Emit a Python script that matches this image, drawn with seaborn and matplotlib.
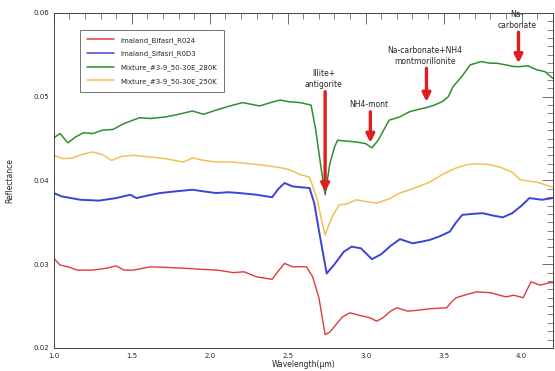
# Reflectance spectra with absorption feature annotations

import pandas as pd
import matplotlib
matplotlib.use("Agg")
import matplotlib.pyplot as plt
import seaborn as sns
from matplotlib.ticker import MultipleLocator

# data
red_x = [1.00,1.04,1.09,1.15,1.25,1.33,1.40,1.45,1.51,1.62,1.75,1.85,1.94,2.05,2.15,2.22,2.30,2.40,2.44,2.48,
         2.53,2.62,2.66,2.70,2.74,2.77,2.81,2.85,2.90,2.96,3.03,3.07,3.11,3.16,3.20,3.27,3.33,3.42,3.52,3.55,
         3.58,3.65,3.71,3.80,3.90,3.95,4.01,4.06,4.12,4.18,4.20]
red_y = [0.0307,0.0299,0.0297,0.0293,0.0293,0.0295,0.0298,0.0293,0.0293,0.0297,0.0296,0.0295,0.0294,0.0293,0.0290,
         0.0291,0.0285,0.0282,0.0292,0.0301,0.0297,0.0297,0.0285,0.0260,0.0216,0.0219,0.0228,0.0237,0.0242,0.0239,
         0.0236,0.0232,0.0236,0.0244,0.0248,0.0244,0.0245,0.0247,0.0248,0.0255,0.0260,0.0264,0.0267,0.0266,0.0261,
         0.0263,0.0260,0.0279,0.0275,0.0278,0.0278]

blue_x = [1.00,1.05,1.17,1.29,1.40,1.49,1.53,1.60,1.68,1.78,1.89,1.96,2.04,2.12,2.19,2.30,2.40,2.44,2.48,2.53,
          2.58,2.64,2.67,2.71,2.75,2.80,2.86,2.91,2.97,3.04,3.10,3.16,3.22,3.30,3.36,3.41,3.47,3.54,3.58,3.62,
          3.68,3.75,3.82,3.88,3.94,4.00,4.05,4.13,4.20]
blue_y = [0.0385,0.0381,0.0377,0.0376,0.0379,0.0383,0.0379,0.0382,0.0385,0.0387,0.0389,0.0387,0.0385,0.0386,0.0385,
          0.0383,0.0380,0.0390,0.0397,0.0393,0.0392,0.0391,0.0373,0.0330,0.0289,0.0300,0.0315,0.0321,0.0319,0.0306,
          0.0312,0.0322,0.0330,0.0325,0.0327,0.0329,0.0333,0.0339,0.0350,0.0359,0.0360,0.0361,0.0358,0.0356,0.0361,
          0.0370,0.0379,0.0377,0.0379]

green_x = [1.00,1.04,1.09,1.14,1.19,1.25,1.31,1.38,1.45,1.55,1.62,1.72,1.80,1.89,1.96,2.04,2.11,2.21,2.32,2.39,
           2.45,2.51,2.58,2.65,2.68,2.71,2.74,2.77,2.80,2.82,2.88,2.94,3.00,3.04,3.08,3.15,3.22,3.28,3.34,3.39,
           3.44,3.49,3.53,3.56,3.62,3.67,3.74,3.80,3.84,3.90,3.95,3.99,4.04,4.10,4.15,4.20]
green_y = [0.0451,0.0456,0.0445,0.0452,0.0457,0.0456,0.0460,0.0461,0.0468,0.0475,0.0474,0.0476,0.0479,0.0483,0.0479,
           0.0484,0.0488,0.0493,0.0489,0.0493,0.0496,0.0494,0.0493,0.0490,0.0460,0.0420,0.0383,0.0420,0.0440,0.0448,
           0.0447,0.0446,0.0444,0.0439,0.0448,0.0472,0.0476,0.0482,0.0485,0.0487,0.0490,0.0494,0.0500,0.0512,0.0525,
           0.0538,0.0542,0.0540,0.0540,0.0538,0.0536,0.0536,0.0537,0.0532,0.0530,0.0522]

orange_x = [1.00,1.06,1.12,1.18,1.25,1.31,1.37,1.44,1.51,1.62,1.72,1.83,1.89,1.96,2.04,2.15,2.26,2.35,2.43,2.51,
            2.58,2.64,2.69,2.72,2.74,2.78,2.83,2.88,2.94,3.00,3.07,3.15,3.22,3.30,3.41,3.50,3.58,3.65,3.71,3.79,
            3.86,3.94,3.99,4.05,4.10,4.15,4.20]
orange_y = [0.0430,0.0426,0.0427,0.0431,0.0434,0.0431,0.0424,0.0429,0.0430,0.0428,0.0426,0.0422,0.0427,0.0424,0.0422,
            0.0422,0.0420,0.0418,0.0416,0.0413,0.0407,0.0404,0.0377,0.0350,0.0335,0.0355,0.0371,0.0372,0.0377,0.0375,
            0.0373,0.0378,0.0385,0.0390,0.0398,0.0408,0.0415,0.0419,0.0420,0.0419,0.0416,0.0410,0.0401,0.0399,0.0398,
            0.0395,0.0392]

names = ["Imaland_Bifasrl_R024", "Imaland_Sifasrl_R0D3",
         "Mixture_#3-9_50-30E_280K", "Mixture_#3-9_50-30E_250K"]
colors = ["#e03a3a", "#3a44d8", "#2f8f2f", "#f5bf55"]

# annotations: label, x, arrow tail y, arrow head y
feat_labels = ["Illite+\nantigorite", "NH4-mont", "Na-carbonate+NH4\nmontmorillonite", "Na-\ncarbonate"]
feat_x = [2.74, 3.03, 3.39, 3.98]
feat_tail = [0.0506, 0.0482, 0.0534, 0.0577]
feat_head = [0.0386, 0.0445, 0.0494, 0.0540]

frames = []
for nm, xs, ys in zip(names, [red_x, blue_x, green_x, orange_x], [red_y, blue_y, green_y, orange_y]):
    frames.append(pd.DataFrame({"wavelength": xs, "reflectance": ys, "sample": nm}))
df = pd.concat(frames, ignore_index=True)

sns.set_style("white")
plt.rcParams['font.family'] = ['DejaVu Sans']

fig = plt.figure(figsize=(5.55, 3.71), dpi=100)
ax = fig.add_axes([0.097, 0.062, 0.899, 0.903])

sns.lineplot(data=df, x="wavelength", y="reflectance", hue="sample", hue_order=names,
             palette=colors, linewidth=1.1, sort=False, ax=ax)
for line, lw in zip(ax.get_lines(), [1.0, 1.4, 1.1, 1.1]):
    line.set_linewidth(lw)

for lab, fx, t, h in zip(feat_labels, feat_x, feat_tail, feat_head):
    ax.annotate("", xy=(fx, h), xytext=(fx, t),
                arrowprops=dict(arrowstyle="-|>,head_width=0.35,head_length=0.7",
                                color="#dd1f1f", lw=2.4, mutation_scale=7, shrinkA=0, shrinkB=0))
    ax.text(fx - 0.01, t + 0.0003, lab, ha="center", va="bottom", fontsize=5.5, linespacing=1.3)

ax.set_xlim(1.0, 4.2)
ax.set_ylim(0.02, 0.06)
ax.xaxis.set_major_locator(MultipleLocator(0.5))
ax.xaxis.set_minor_locator(MultipleLocator(0.1))
ax.yaxis.set_major_locator(MultipleLocator(0.01))
ax.yaxis.set_minor_locator(MultipleLocator(0.001))
ax.set_xticklabels([f"{v:.1f}" for v in ax.get_xticks()])
ax.set_yticklabels([f"{v:.2f}" for v in ax.get_yticks()])
ax.tick_params(which="both", direction="in", top=True, right=True, labelsize=5, color="#555555")
ax.tick_params(which="major", length=8, width=0.6)
ax.tick_params(which="minor", length=4, width=0.5)
for sp in ax.spines.values():
    sp.set_linewidth(0.7)
    sp.set_color("#444444")

ax.set_xlabel("Wavelength(\u03bcm)", fontsize=5.5, labelpad=1)
ax.set_ylabel("Reflectance", fontsize=5.5, labelpad=14)

leg = ax.legend(loc="upper left", bbox_to_anchor=(0.045, 0.96), fontsize=5, frameon=True,
                fancybox=False, edgecolor="#333333", handlelength=4, borderpad=1.0, labelspacing=1.0)
leg.get_frame().set_linewidth(0.6)

plt.savefig("out.png", dpi=100)
